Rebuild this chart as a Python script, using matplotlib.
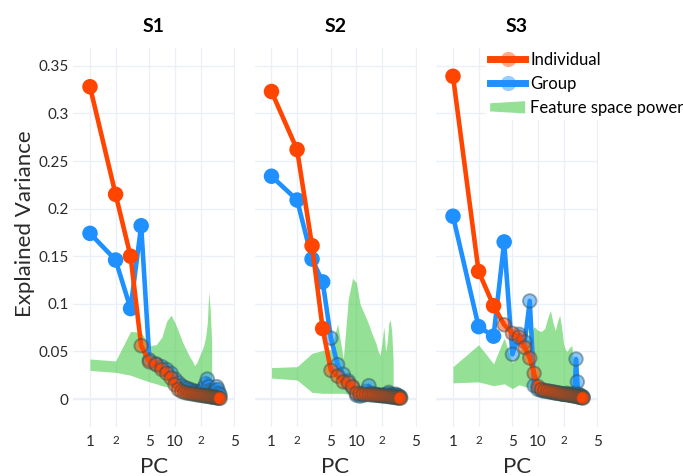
import matplotlib
matplotlib.use("Agg")
import matplotlib.pyplot as plt
import numpy as np
from matplotlib.lines import Line2D
from matplotlib.patches import Polygon, Patch
from matplotlib.legend_handler import HandlerPatch
from matplotlib.colors import to_rgba

plt.rcParams["font.family"] = ["Lato", "DejaVu Sans"]

# ---------------- data ----------------
subjects = ["S1", "S2", "S3"]

s1_individual = [0.328, 0.215, 0.150, 0.056, 0.039, 0.036, 0.031, 0.027, 0.022, 0.015,
                 0.010, 0.008, 0.0068, 0.0062, 0.0058, 0.0054, 0.0050, 0.0046, 0.0043, 0.0040,
                 0.0037, 0.0034, 0.0032, 0.0030, 0.0027, 0.0025, 0.0022, 0.0020, 0.0018, 0.0016,
                 0.0013, 0.0011, 0.0009, 0.0007]
s1_group = [0.174, 0.146, 0.095, 0.182, 0.041, 0.037, 0.034, 0.031, 0.027, 0.021,
            0.017, 0.014, 0.012, 0.011, 0.010, 0.009, 0.008, 0.008, 0.007, 0.007,
            0.009, 0.012, 0.016, 0.021, 0.013, 0.009, 0.007, 0.006, 0.006, 0.009,
            0.013, 0.010, 0.006, 0.004]
s1_power_low = [0.030, 0.028, 0.025, 0.021, 0.018, 0.016, 0.014, 0.013, 0.012, 0.011,
                0.010, 0.009, 0.009, 0.008, 0.008, 0.008, 0.007, 0.007, 0.007, 0.007,
                0.007, 0.007, 0.006, 0.006, 0.006, 0.006, 0.006]
s1_power_high = [0.042, 0.040, 0.071, 0.070, 0.056, 0.057, 0.065, 0.082, 0.088, 0.080,
                 0.071, 0.062, 0.055, 0.049, 0.044, 0.040, 0.035, 0.038, 0.043, 0.048,
                 0.052, 0.058, 0.066, 0.080, 0.113, 0.092, 0.060]

s2_individual = [0.323, 0.262, 0.161, 0.074, 0.030, 0.024, 0.018, 0.017, 0.013, 0.006,
                 0.0055, 0.0050, 0.0048, 0.0046, 0.0044, 0.0042, 0.0040, 0.0038, 0.0036, 0.0034,
                 0.0032, 0.0030, 0.0028, 0.0026, 0.0024, 0.0022, 0.0020, 0.0018, 0.0016, 0.0014,
                 0.0012, 0.0010, 0.0008]
s2_group = [0.234, 0.209, 0.147, 0.123, 0.064, 0.036, 0.026, 0.019, 0.012, 0.004,
            0.003, 0.004, 0.008, 0.014, 0.006, 0.005, 0.005, 0.004, 0.004, 0.004,
            0.004, 0.004, 0.005, 0.007, 0.005, 0.004, 0.004, 0.004, 0.005, 0.004,
            0.003, 0.003, 0.002]
s2_power_low = [0.022, 0.020, 0.007, 0.006, 0.006, 0.006, 0.006, 0.005, 0.005, 0.005,
                0.005, 0.005, 0.005, 0.005, 0.005, 0.005, 0.005, 0.005, 0.005, 0.005,
                0.005, 0.005, 0.005, 0.005, 0.005, 0.005, 0.005]
s2_power_high = [0.033, 0.034, 0.048, 0.051, 0.052, 0.079, 0.042, 0.105, 0.127, 0.122,
                 0.100, 0.092, 0.085, 0.078, 0.070, 0.064, 0.058, 0.050, 0.046, 0.060,
                 0.076, 0.050, 0.060, 0.080, 0.083, 0.070, 0.040]

s3_individual = [0.339, 0.134, 0.098, 0.078, 0.069, 0.065, 0.054, 0.043, 0.027, 0.013,
                 0.010, 0.009, 0.0085, 0.0080, 0.0075, 0.0070, 0.0065, 0.0060, 0.0055, 0.0050,
                 0.0048, 0.0045, 0.0042, 0.0040, 0.0037, 0.0034, 0.0031, 0.0028, 0.0025, 0.0022,
                 0.0019, 0.0016, 0.0013, 0.0010]
s3_group = [0.192, 0.076, 0.066, 0.165, 0.047, 0.068, 0.060, 0.103, 0.014, 0.010,
            0.009, 0.008, 0.008, 0.007, 0.007, 0.006, 0.006, 0.006, 0.005, 0.005,
            0.005, 0.006, 0.005, 0.004, 0.004, 0.005, 0.006, 0.042, 0.018, 0.005,
            0.004, 0.003, 0.003, 0.002]
s3_power_low = [0.017, 0.018, 0.014, 0.016, 0.011, 0.015, 0.013, 0.012, 0.010, 0.009,
                0.008, 0.008, 0.008, 0.008, 0.008, 0.007, 0.007, 0.007, 0.007, 0.007,
                0.007, 0.007, 0.006, 0.006, 0.006, 0.006, 0.006]
s3_power_high = [0.034, 0.057, 0.037, 0.064, 0.038, 0.050, 0.058, 0.068, 0.076, 0.072,
                 0.071, 0.074, 0.085, 0.093, 0.080, 0.072, 0.082, 0.088, 0.075, 0.058,
                 0.052, 0.050, 0.053, 0.055, 0.056, 0.040, 0.030]

individual = [s1_individual, s2_individual, s3_individual]
group = [s1_group, s2_group, s3_group]
power_low = [s1_power_low, s2_power_low, s3_power_low]
power_high = [s1_power_high, s2_power_high, s3_power_high]

x_ticks = [1, 2, 5, 10, 20, 50]
x_tick_labels = ["1", "2", "5", "10", "2", "5"]
y_ticks = [0, 0.05, 0.1, 0.15, 0.2, 0.25, 0.3, 0.35]
y_tick_labels = ["0", "0.05", "0.1", "0.15", "0.2", "0.25", "0.3", "0.35"]
legend_labels = ["Individual", "Group", "Feature space power"]

# ---------------- style ----------------
W, H = 683, 476
ORANGE = "#FF4500"
BLUE = "#1E90FF"
GREEN = "#3CC83C"
GRID = "#EBF0F8"
TEXT = "#2a2a2a"
RING = "#2F4F4F"

panel_left_px = [73, 254.5, 436]
panel_w_px = 162
panel_top_px, panel_bottom_px = 48, 427
# opaque leading markers per panel (individual, group); the rest are translucent
solid_markers = [(3, 4), (4, 4), (3, 4)]

fig = plt.figure(figsize=(W / 100, H / 100), dpi=100)


def marker_style(color, n, n_solid):
    face = np.tile(np.array(to_rgba(color)), (n, 1))
    face[n_solid:, 3] = 0.5
    edge = np.tile(np.array(to_rgba(color)), (n, 1))
    edge[n_solid:] = to_rgba(RING, 0.45)
    return face, edge


def draw_trace(ax, values, color, n_solid, z):
    v = np.array(values)
    pcs = np.arange(1, len(v) + 1)
    ax.plot(pcs, v, color=color, lw=3.3, zorder=z, solid_joinstyle="round")
    face, edge = marker_style(color, len(v), n_solid)
    ax.scatter(pcs, v, s=95, c=face, edgecolors=edge, linewidths=1.4, zorder=z + 0.1)


for k, name in enumerate(subjects):
    l = panel_left_px[k]
    ax = fig.add_axes([l / W, (H - panel_bottom_px) / H, panel_w_px / W,
                       (panel_bottom_px - panel_top_px) / H])
    ax.set_xscale("log")
    ax.set_xlim(10 ** -0.2, 10 ** 1.706)
    ax.set_ylim(-0.0294, 0.3687)
    for s in ax.spines.values():
        s.set_visible(False)
    ax.set_xticks(x_ticks)
    ax.set_xticklabels(x_tick_labels)
    ax.xaxis.set_minor_locator(matplotlib.ticker.NullLocator())
    ax.set_yticks(y_ticks)
    if k == 0:
        ax.set_yticklabels(y_tick_labels)
    else:
        ax.set_yticklabels([])
    ax.tick_params(axis="both", length=0, labelsize=11, colors=TEXT)
    ax.tick_params(axis="x", pad=6)
    ax.tick_params(axis="y", pad=3)
    for lab in ax.get_xticklabels():
        if lab.get_text() == "2":
            lab.set_fontsize(8.5)
    ax.grid(True, color=GRID, linewidth=1.0, zorder=0)
    ax.set_axisbelow(True)
    ax.axhline(0, color=GRID, linewidth=1.6, zorder=0.5)

    pcs_pow = np.arange(1, len(power_high[k]) + 1)
    ax.fill_between(pcs_pow, power_low[k], power_high[k], color=GREEN, alpha=0.55,
                    linewidth=0, zorder=1)

    draw_trace(ax, group[k], BLUE, solid_markers[k][1], 2)
    draw_trace(ax, individual[k], ORANGE, solid_markers[k][0], 3)

    cx = (l + panel_w_px / 2) / W
    fig.text(cx, 1 - 27 / H, name, ha="center", va="center", fontsize=14,
             fontweight="bold", color="black")
    fig.text(cx, 1 - 467 / H, "PC", ha="center", va="center", fontsize=16, color=TEXT)

fig.text(25 / W, 1 - 224 / H, "Explained Variance", rotation=90, ha="center",
         va="center", fontsize=16, color=TEXT)


# legend with a trapezoid swatch for the filled band
def trapezoid(legend, orig_handle, xdescent, ydescent, width, height, fontsize):
    x0, x1 = -xdescent, -xdescent + width
    ym = -ydescent + height / 2
    hl, hr = height * 0.7, height * 1.05
    return Polygon([[x0, ym - hl / 2], [x1, ym - hr / 2], [x1, ym + hr / 2],
                    [x0, ym + hl / 2]], closed=True)


handles = [
    Line2D([], [], color=ORANGE, lw=5, marker="o", markersize=11,
           markerfacecolor=to_rgba(ORANGE, 0.45), markeredgewidth=0),
    Line2D([], [], color=BLUE, lw=5, marker="o", markersize=11,
           markerfacecolor=to_rgba(BLUE, 0.45), markeredgewidth=0),
    Patch(facecolor=to_rgba(GREEN, 0.55), edgecolor="none"),
]
leg = fig.legend(handles, legend_labels, loc="upper left",
                 bbox_to_anchor=(486 / W, 1 - 48 / H), frameon=True,
                 facecolor="white", edgecolor="none", framealpha=1, fontsize=12,
                 handlelength=2.1, handletextpad=0.3, labelspacing=0.48,
                 borderpad=0.25, borderaxespad=0,
                 handler_map={Patch: HandlerPatch(patch_func=trapezoid)})
for t in leg.get_texts():
    t.set_color("black")
leg.get_frame().set_boxstyle("square", pad=0)

fig.savefig("out.png", dpi=100)
